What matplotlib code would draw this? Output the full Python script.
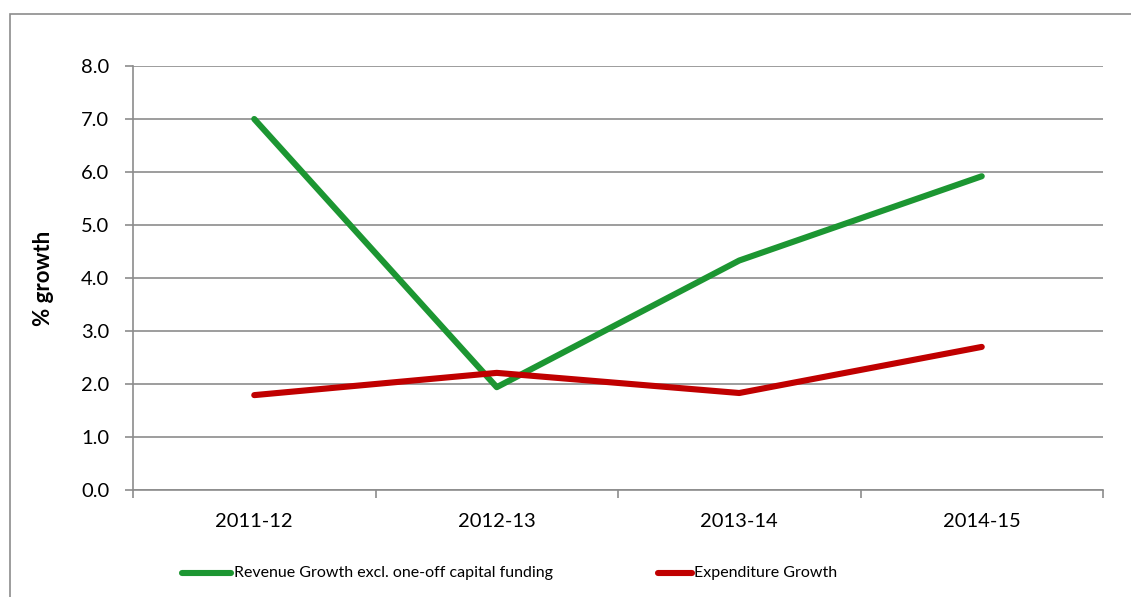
import matplotlib
matplotlib.use("Agg")
import matplotlib.pyplot as plt
from matplotlib.lines import Line2D
from matplotlib.patches import Rectangle

plt.rcParams['font.family'] = ['Lato', 'DejaVu Sans']

years = ["2011-12", "2012-13", "2013-14", "2014-15"]
revenue_growth = [7.0, 1.94, 4.33, 5.92]
expenditure_growth = [1.79, 2.21, 1.83, 2.70]
series_names = ["Revenue Growth excl. one-off capital funding", "Expenditure Growth"]
y_ticks = [0.0, 1.0, 2.0, 3.0, 4.0, 5.0, 6.0, 7.0, 8.0]

GREEN = "#1C9632"
RED = "#C00000"
GRID = "#8C8C8C"

W, H = 1131, 597
fig = plt.figure(figsize=(W / 100, H / 100), dpi=100)

# outer chart frame
fig.add_artist(Rectangle((10 / W, -0.2), 1.5, (H - 14) / H + 0.2,
                         transform=fig.transFigure, fill=False,
                         edgecolor=GRID, linewidth=1.2))

ax = fig.add_axes([133 / W, (H - 490) / H, (1103 - 133) / W, (490 - 66) / H])
x = list(range(len(years)))
ax.plot(x, revenue_growth, color=GREEN, linewidth=4.4, solid_capstyle='round',
        solid_joinstyle='round', zorder=3)
ax.plot(x, expenditure_growth, color=RED, linewidth=4.4, solid_capstyle='round',
        solid_joinstyle='round', zorder=3)

ax.set_xlim(-0.5, len(years) - 0.5)
ax.set_ylim(0, 8)
ax.set_yticks(y_ticks)
ax.set_yticklabels([f"{v:.1f}" for v in y_ticks])
ax.set_xticks(x)
ax.set_xticklabels(years)
ax.set_xticks([i - 0.5 for i in range(len(years) + 1)], minor=True)

ax.yaxis.grid(True, color=GRID, linewidth=1.2)
ax.set_axisbelow(True)
for s in ["top", "right"]:
    ax.spines[s].set_visible(False)
for s in ["left", "bottom"]:
    ax.spines[s].set_color(GRID)
    ax.spines[s].set_linewidth(1.2)

ax.tick_params(axis='y', length=6, width=1.2, color=GRID, labelsize=14.5, pad=11)
ax.tick_params(axis='x', which='major', length=0, labelsize=14.5, pad=16.5)
ax.tick_params(axis='x', which='minor', length=6, width=1.2, color=GRID)

ax.set_ylabel("% growth", fontsize=16, fontweight='bold')
ax.yaxis.set_label_coords((54 - 133) / (1103 - 133), 0.5)

# legend drawn along the bottom of the frame
ly = (H - 573) / H
fig.add_artist(Line2D([182 / W, 231 / W], [ly, ly], color=GREEN, linewidth=4.4,
                      solid_capstyle='round', transform=fig.transFigure))
fig.text(234 / W, ly, series_names[0], fontsize=11.5, va='center', ha='left')
fig.add_artist(Line2D([658 / W, 692 / W], [ly, ly], color=RED, linewidth=4.4,
                      solid_capstyle='round', transform=fig.transFigure))
fig.text(694 / W, ly, series_names[1], fontsize=11.5, va='center', ha='left')

fig.savefig("out.png", dpi=100)
